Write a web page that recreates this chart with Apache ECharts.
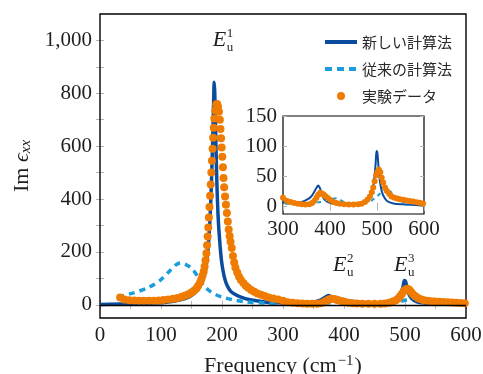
<!DOCTYPE html>
<html>
<head>
<meta charset="utf-8">
<script src="https://cdn.jsdelivr.net/npm/echarts@6/dist/echarts.min.js"></script>
<style>
  html, body { margin: 0; padding: 0; background: #fff; }
  #chart { width: 483px; height: 374px; }
</style>
</head>
<body>
<div id="chart"></div>
<script>
// --- data ---
var newCalc = [
  [0, 1], [55, 4], [90, 7], [109, 10], [130, 18], [147, 31], [156, 46], [164, 70],
  [169, 95], [172, 120], [175, 165], [177.5, 220], [179.5, 290], [181, 360], [182.5, 450],
  [184, 560], [185.5, 690], [186.5, 790], [187.2, 842], [188, 810], [189, 720], [190.5, 560],
  [192, 430], [193.5, 340], [195, 280], [197, 220], [199, 170], [202, 125], [205, 95],
  [209, 70], [214, 52], [219, 43], [230, 30], [246, 19], [273, 10], [300, 7], [320, 6],
  [340, 8], [352, 12], [360, 17], [366, 24], [371, 31], [375, 35], [379, 30], [383, 20],
  [388, 12], [395, 8], [405, 5.5], [420, 4], [440, 3.5], [460, 4], [472, 6], [480, 10],
  [486, 17], [490, 27], [494, 45], [497, 70], [499, 92], [501, 88], [503, 68], [506, 43],
  [510, 26], [515, 16], [522, 9], [535, 5.5], [555, 4], [580, 3], [600, 2.5]
];

var oldCalc = [
  [30, 30], [55, 45], [80, 66], [100, 95], [115, 130], [125, 152], [132, 158], [140, 153],
  [150, 138], [160, 108], [170, 72], [180, 52], [190, 38], [205, 26], [220, 18], [240, 11],
  [270, 7], [300, 5], [330, 5], [360, 6], [380, 8], [395, 11], [405, 13], [413, 14],
  [420, 12], [430, 8], [445, 5], [465, 5], [480, 7], [490, 11], [500, 17], [510, 24],
  [517, 29], [522, 30], [527, 27], [535, 18], [545, 11], [560, 7], [580, 5], [600, 4]
];

var expData = [
  [33, 28], [40, 20], [48, 17], [56, 16], [64, 15], [72, 15], [80, 15], [88, 15], [96, 16],
  [104, 18], [112, 20], [120, 23], [127, 26], [134, 30], [140, 35], [145, 40], [150, 46],
  [154, 53], [158, 62], [161, 72], [164, 84], [166, 96], [168, 110], [170, 126], [171.5, 145],
  [173, 168], [174.5, 195], [175.5, 225], [176.5, 258], [177.5, 292], [178.5, 330],
  [179.5, 370], [180.5, 412], [181.5, 455], [182.5, 500], [183.5, 545], [184.5, 590],
  [185.5, 632], [186.5, 670], [187.5, 705], [189, 735], [190.5, 758], [192, 760],
  [193.5, 750], [195, 730], [196.5, 700], [197.5, 665], [198.5, 630], [199.5, 595],
  [200.5, 560], [201.5, 520], [202.5, 480], [203.5, 445], [205, 410], [206.5, 378],
  [208, 347], [209.5, 315], [211, 285], [212.5, 260], [214, 238], [216, 215], [218, 185],
  [220, 160], [222, 140], [225, 122], [228, 106], [231, 94], [235, 82], [239, 72], [243, 64],
  [248, 56], [253, 49], [258, 43], [264, 38], [270, 33], [277, 28], [284, 24], [292, 20],
  [300, 15], [308, 10], [316, 8], [324, 6], [332, 5], [340, 4], [348, 3.5], [356, 4],
  [362, 6], [367, 10], [371, 15], [375, 20], [379, 23], [383, 22], [387, 20], [391, 17],
  [396, 14], [401, 11], [407, 8], [414, 6], [421, 5], [430, 4], [440, 3.5], [450, 3.5],
  [460, 4], [467, 5], [474, 8], [480, 12], [485, 17], [489, 24], [492, 32], [495, 42],
  [498, 52], [501, 58], [504, 61], [507, 57], [510, 48], [513, 40], [517, 32], [521, 26],
  [526, 21], [531, 17], [537, 15], [543, 13.5], [549, 12.5], [556, 11.5], [563, 10.5],
  [570, 9.5], [577, 8.5], [584, 7.5], [591, 6.5], [598, 5.5]
];

var seriesNames = ['新しい計算法', '従来の計算法', '実験データ'];
var xLabels = [0, 100, 200, 300, 400, 500, 600];
var xTicks = [0, 50, 100, 150, 200, 250, 300, 350, 400, 450, 500, 550, 600];
var yLabels = [0, 200, 400, 600, 800, 1000];
var yTicks = [0, 100, 200, 300, 400, 500, 600, 700, 800, 900, 1000];
var insetXLabels = [300, 400, 500, 600];
var insetYLabels = [0, 50, 100, 150];
var peaks = [
  { sup: '1', at: [185, 1000] },
  { sup: '2', at: [382, 148] },
  { sup: '3', at: [482, 148] }
];

var blue = '#0b4c9e';
var cyan = '#1a9edb';
var orange = '#ef7c00';
var serif = '"Liberation Serif", "DejaVu Serif", serif';
var tickGray = '#b4b4b4';
var ink = '#1e1e1e';

function fmt(v) {
  return v >= 1000 ? String(v).replace(/(\d)(\d{3})$/, '$1,$2') : String(v);
}

function valueAxis(opt) {
  var base = {
    type: 'value',
    axisLine: { show: false },
    splitLine: { show: false },
    axisTick: { show: true, inside: true, length: 4, lineStyle: { color: tickGray, width: 1 } },
    axisLabel: { show: false }
  };
  for (var k in opt) base[k] = opt[k];
  return base;
}

var chart = echarts.init(document.getElementById('chart'), null, { renderer: 'canvas' });

function mainSeries(inset) {
  var z = inset ? 20 : 2;
  var ax = inset ? 2 : 0;
  return [
    {
      name: seriesNames[0], type: 'line', xAxisIndex: ax, yAxisIndex: ax,
      data: newCalc, showSymbol: false, symbol: 'none', smooth: 0.3, z: z,
      lineStyle: { color: blue, width: inset ? 2 : 3.5 }, itemStyle: { color: blue },
      animation: false, clip: true,
      markLine: {
        silent: true, symbol: 'none', label: { show: false },
        lineStyle: { color: '#000', width: 1.3, type: 'solid' },
        data: [{ yAxis: 0 }]
      }
    },
    {
      name: seriesNames[1], type: 'line', xAxisIndex: ax, yAxisIndex: ax,
      data: oldCalc, showSymbol: false, symbol: 'none', smooth: 0.3, z: z + 1,
      lineStyle: { color: cyan, width: inset ? 2 : 3.5, type: inset ? [4, 4] : [6, 5] },
      itemStyle: { color: cyan }, animation: false, clip: true
    },
    {
      name: seriesNames[2], type: 'scatter', xAxisIndex: ax, yAxisIndex: ax,
      data: expData, symbol: 'circle', symbolSize: inset ? 6 : 8, z: z + 2,
      itemStyle: { color: orange, opacity: 1 }, animation: false, clip: true
    }
  ];
}

chart.setOption({
  animation: false,
  backgroundColor: '#fff',
  legend: {
    orient: 'vertical',
    left: 318, top: 27,
    itemWidth: 32, itemHeight: 8, itemGap: 7,
    textStyle: { fontFamily: '"Noto Sans CJK JP"', fontSize: 15, color: '#2a2a2a', lineHeight: 20 },
    data: [
      { name: seriesNames[0], itemStyle: { opacity: 0 }, lineStyle: { color: blue, width: 4, type: 'solid' } },
      { name: seriesNames[1], itemStyle: { opacity: 0 }, lineStyle: { color: cyan, width: 4, type: [7, 5] } },
      { name: seriesNames[2], icon: 'circle' }
    ]
  },
  grid: [
    { left: 100, right: 17, top: 14, bottom: 56, show: true, borderColor: '#000', borderWidth: 1.4,
      backgroundColor: 'transparent', outerBoundsMode: 'none', z: 1 },
    { left: 283, right: 59, top: 116, bottom: 160, show: true, borderColor: '#000', borderWidth: 1.2,
      backgroundColor: '#fff', outerBoundsMode: 'none', z: 15 }
  ],
  xAxis: [
    valueAxis({
      gridIndex: 0, min: 0, max: 600, position: 'bottom',
      name: 'Frequency (cm{sup|−1})', nameLocation: 'middle', nameGap: 36,
      nameTextStyle: { fontFamily: serif, fontSize: 22, color: ink,
        rich: { sup: { fontFamily: serif, fontSize: 15, verticalAlign: 'top', padding: [0, 1, 10, 1], color: ink } } },
      axisTick: { show: true, inside: true, length: 4, customValues: xTicks, lineStyle: { color: tickGray } },
      axisLabel: { show: true, customValues: xLabels, margin: 7, fontFamily: serif, fontSize: 21, color: ink }
    }),
    valueAxis({
      gridIndex: 0, min: 0, max: 600, position: 'top',
      axisTick: { show: true, inside: true, length: 4, customValues: xTicks, lineStyle: { color: tickGray } }
    }),
    valueAxis({
      gridIndex: 1, min: 300, max: 600, position: 'bottom', z: 16,
      axisTick: { show: true, inside: true, length: 4, customValues: insetXLabels, lineStyle: { color: tickGray } },
      axisLabel: { show: true, customValues: insetXLabels, margin: 5, fontFamily: serif, fontSize: 21, color: ink }
    }),
    valueAxis({
      gridIndex: 1, min: 300, max: 600, position: 'top', z: 16,
      axisTick: { show: true, inside: true, length: 4, customValues: insetXLabels, lineStyle: { color: tickGray } }
    })
  ],
  yAxis: [
    valueAxis({
      gridIndex: 0, min: -50, max: 1100, position: 'left',
      name: 'Im {it|ϵ}{sub|xx}', nameLocation: 'middle', nameGap: 66, nameRotate: 90,
      nameTextStyle: { fontFamily: serif, fontSize: 22, color: ink,
        rich: {
          it: { fontFamily: serif, fontStyle: 'italic', fontSize: 22, color: ink },
          sub: { fontFamily: serif, fontStyle: 'italic', fontSize: 15, verticalAlign: 'bottom', padding: [8, 0, 0, 0], color: ink }
        } },
      axisTick: { show: true, inside: true, length: 4, customValues: yTicks, lineStyle: { color: tickGray } },
      axisLabel: { show: true, customValues: yLabels, margin: 8, fontFamily: serif, fontSize: 21, color: ink, formatter: fmt }
    }),
    valueAxis({
      gridIndex: 0, min: -50, max: 1100, position: 'right',
      axisTick: { show: true, inside: true, length: 4, customValues: yTicks, lineStyle: { color: tickGray } }
    }),
    valueAxis({
      gridIndex: 1, min: -12, max: 150, position: 'left', z: 16,
      axisTick: { show: true, inside: true, length: 4, customValues: insetYLabels, lineStyle: { color: tickGray } },
      axisLabel: { show: true, customValues: insetYLabels, margin: 6, fontFamily: serif, fontSize: 21, color: ink }
    }),
    valueAxis({
      gridIndex: 1, min: -12, max: 150, position: 'right', z: 16,
      axisTick: { show: true, inside: true, length: 4, customValues: insetYLabels, lineStyle: { color: tickGray } }
    })
  ],
  series: mainSeries(false).concat(mainSeries(true))
});

// peak labels E_u^n, anchored in data coordinates of the main grid
var graphics = [];
peaks.forEach(function (p) {
  var pt = chart.convertToPixel({ gridIndex: 0 }, p.at);
  graphics.push({
    type: 'group', x: pt[0], y: pt[1], z: 30,
    children: [
      { type: 'text', x: 0, y: 0, style: { text: 'E', fontFamily: serif, fontStyle: 'italic', fontSize: 22, fill: ink, verticalAlign: 'middle' } },
      { type: 'text', x: 14, y: -7, style: { text: p.sup, fontFamily: serif, fontSize: 13, fill: ink, verticalAlign: 'middle' } },
      { type: 'text', x: 14, y: 7, style: { text: 'u', fontFamily: serif, fontSize: 13, fill: ink, verticalAlign: 'middle' } }
    ]
  });
});
chart.setOption({ graphic: graphics });

window.addEventListener('resize', function () { chart.resize(); });
</script>
</body>
</html>
